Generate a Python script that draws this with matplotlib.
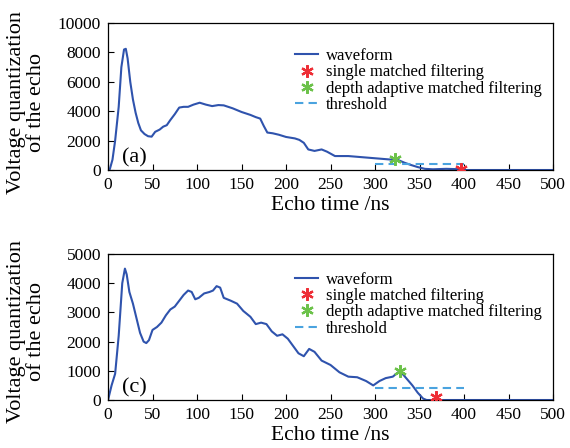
import matplotlib
matplotlib.use("Agg")
import matplotlib.pyplot as plt
from matplotlib.lines import Line2D

plt.rcParams["font.family"] = ["Liberation Serif", "DejaVu Serif"]

# panel (a) waveform
t_a = [0, 2, 5, 8, 12, 15, 18, 20, 22, 25, 28, 31, 34, 37, 41, 45, 49, 53, 58, 62, 66, 70, 75, 80,
       85, 90, 96, 103, 110, 117, 124, 130, 140, 150, 160, 166, 171, 175, 179, 185, 192, 200, 210,
       215, 220, 225, 232, 240, 246, 255, 270, 290, 310, 320, 326, 333, 340, 348, 356, 365, 380,
       392, 400, 420, 460, 500]
v_a = [0, 50, 700, 2000, 4300, 7000, 8200, 8250, 7600, 6000, 4800, 3900, 3200, 2700, 2450,
       2300, 2270, 2600, 2750, 2950, 3050, 3400, 3800, 4250, 4300, 4300, 4450, 4580, 4450, 4350,
       4420, 4400, 4200, 3950, 3750, 3600, 3500, 3000, 2550, 2500, 2400, 2250, 2150, 2050, 1850,
       1400, 1300, 1400, 1250, 950, 950, 850, 750, 700, 680, 500, 350, 200, 80, 50, 80, 60, 0, 0,
       0, 0]

# panel (c) waveform
t_c = [0, 4, 8, 12, 16, 19, 21, 24, 28, 32, 36, 40, 43, 46, 50, 55, 60, 65, 70, 75, 80, 85, 90,
       94, 98, 102, 108, 114, 118, 122, 126, 130, 138, 145, 152, 160, 166, 172, 178, 184, 190, 196,
       202, 208, 214, 220, 226, 232, 240, 250, 260, 270, 280, 290, 298, 305, 312, 320, 328, 335,
       342, 348, 354, 358, 365, 380, 420, 500]
v_c = [0, 500, 900, 2200, 4000, 4500, 4300, 3700, 3300, 2800, 2300, 2000, 1950, 2050, 2400, 2500,
       2650, 2900, 3100, 3200, 3400, 3600, 3750, 3700, 3450, 3500, 3650, 3700, 3750, 3900, 3850,
       3500, 3400, 3300, 3050, 2850, 2600, 2650, 2600, 2350, 2200, 2250, 2100, 1850, 1600, 1500,
       1750, 1650, 1350, 1200, 950, 800, 780, 650, 500, 650, 750, 800, 1000, 750, 500, 250, 50, 0,
       0, 0, 0, 0]

thr_x = [300, 400]
thr_a = [400, 400]
thr_c = [400, 400]

single_a = (397, 60)
adapt_a = (322, 720)
single_c = (368, 100)
adapt_c = (328, 1000)

wave_color = "#2f53ad"
thr_color = "#4aa3df"
red = "#ee2e36"
green = "#6cc24a"
star = (6, 2, 0)

fig = plt.figure(figsize=(5.7, 4.48), dpi=100)
ax_a = fig.add_axes([0.1895, 0.6205, 0.7807, 0.328])
ax_c = fig.add_axes([0.1895, 0.1071, 0.7807, 0.3259])

panels = [
    (ax_a, t_a, v_a, thr_a, single_a, adapt_a, 10000, [0, 2000, 4000, 6000, 8000, 10000], "(a)", 0.83, 0.46),
    (ax_c, t_c, v_c, thr_c, single_c, adapt_c, 5000, [0, 1000, 2000, 3000, 4000, 5000], "(c)", 0.88, 0.47),
]

for ax, t, v, thr, sgl, adp, ymax, yt, tag, legy, laby in panels:
    ax.plot(t, v, color=wave_color, lw=1.5, zorder=2)
    ax.plot(thr_x, thr, color=thr_color, lw=1.5, ls=(0, (4, 2.5)), zorder=3)
    ax.plot(*adp, marker=star, color=green, ms=9, mew=1.6, ls="none", zorder=4)
    ax.plot(*sgl, marker=star, color=red, ms=9, mew=1.6, ls="none", zorder=4)
    ax.set_xlim(0, 500)
    ax.set_ylim(0, ymax)
    ax.set_xticks(range(0, 501, 50))
    ax.set_yticks(yt)
    ax.tick_params(direction="in", labelsize=12.5, length=4, width=0.8, pad=5)
    for s in ax.spines.values():
        s.set_linewidth(0.9)
    ax.set_xlabel("Echo time /ns", fontsize=15.5, labelpad=2.5)
    ax.set_ylabel("Voltage quantization\nof the echo", fontsize=16, linespacing=1.05)
    ax.yaxis.set_label_coords(-0.14, laby)
    ax.text(0.031, 0.085, tag, transform=ax.transAxes, fontsize=16, va="center")
    handles = [
        Line2D([], [], color=wave_color, lw=1.5),
        Line2D([], [], marker=star, color=red, ms=9, mew=1.6, ls="none"),
        Line2D([], [], marker=star, color=green, ms=9, mew=1.6, ls="none"),
        Line2D([], [], color=thr_color, lw=1.5, ls=(0, (4, 2.5))),
    ]
    labels = ["waveform", "single matched filtering", "depth adaptive matched filtering", "threshold"]
    ax.legend(handles, labels, loc="upper left", bbox_to_anchor=(0.42, legy), frameon=False,
              fontsize=12, handlelength=1.4, handletextpad=0.45, labelspacing=0.02,
              borderaxespad=0, borderpad=0)

fig.savefig("out.png", dpi=100)
